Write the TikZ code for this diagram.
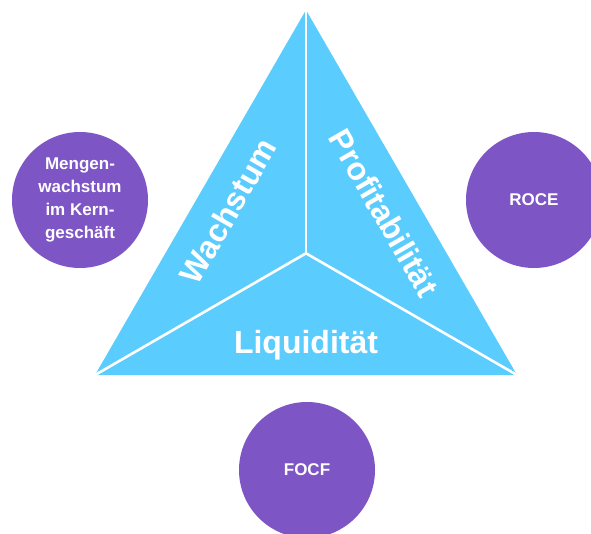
\documentclass[tikz,border=0pt]{standalone}
\usepackage{fontspec}
\setmainfont{Liberation Sans}
\usepackage{tikz}

\definecolor{triblue}{RGB}{90,204,254}
\definecolor{kpipurple}{RGB}{126,85,196}

\tikzset{
  kpi/.style={circle, fill=kpipurple, minimum size=136pt, inner sep=0pt,
    text=white, font=\bfseries\fontsize{17}{23}\selectfont, align=center},
  side/.style={text=white, font=\bfseries\fontsize{32}{36}\selectfont, inner sep=0pt}
}

\begin{document}
\begin{tikzpicture}[x=1pt, y=-1pt]
      \useasboundingbox (0, 0) rectangle (591, 533);
      \clip (0, 0) rectangle (591, 533);

      \coordinate (top) at (306, 10);
      \coordinate (bl) at (95, 375);
      \coordinate (br) at (517, 375);
      \coordinate (ctr) at (306, 253.3);

      \fill [triblue] (top) -- (br) -- (bl) -- cycle;
      \draw [white, line width=2.6pt] (ctr) -- (top);
      \draw [white, line width=2.6pt] (ctr) -- (bl);
      \draw [white, line width=2.6pt] (ctr) -- (br);

      \node [side, rotate=60] (wachstum) at (228, 211) {Wachstum};
      \node [side, rotate=-60] (profit) at (384, 213) {Profitabilität};
      \node [side, anchor=base] (liqui) at (306, 353) {Liquidität};

      \node [kpi] (menge) at (80, 200) {Mengen-\\wachstum\\im Kern-\\geschäft};
      \node [kpi] (roce) at (534, 200) {ROCE};
      \node [kpi] (focf) at (307, 470) {FOCF};
    \end{tikzpicture}
\end{document}
